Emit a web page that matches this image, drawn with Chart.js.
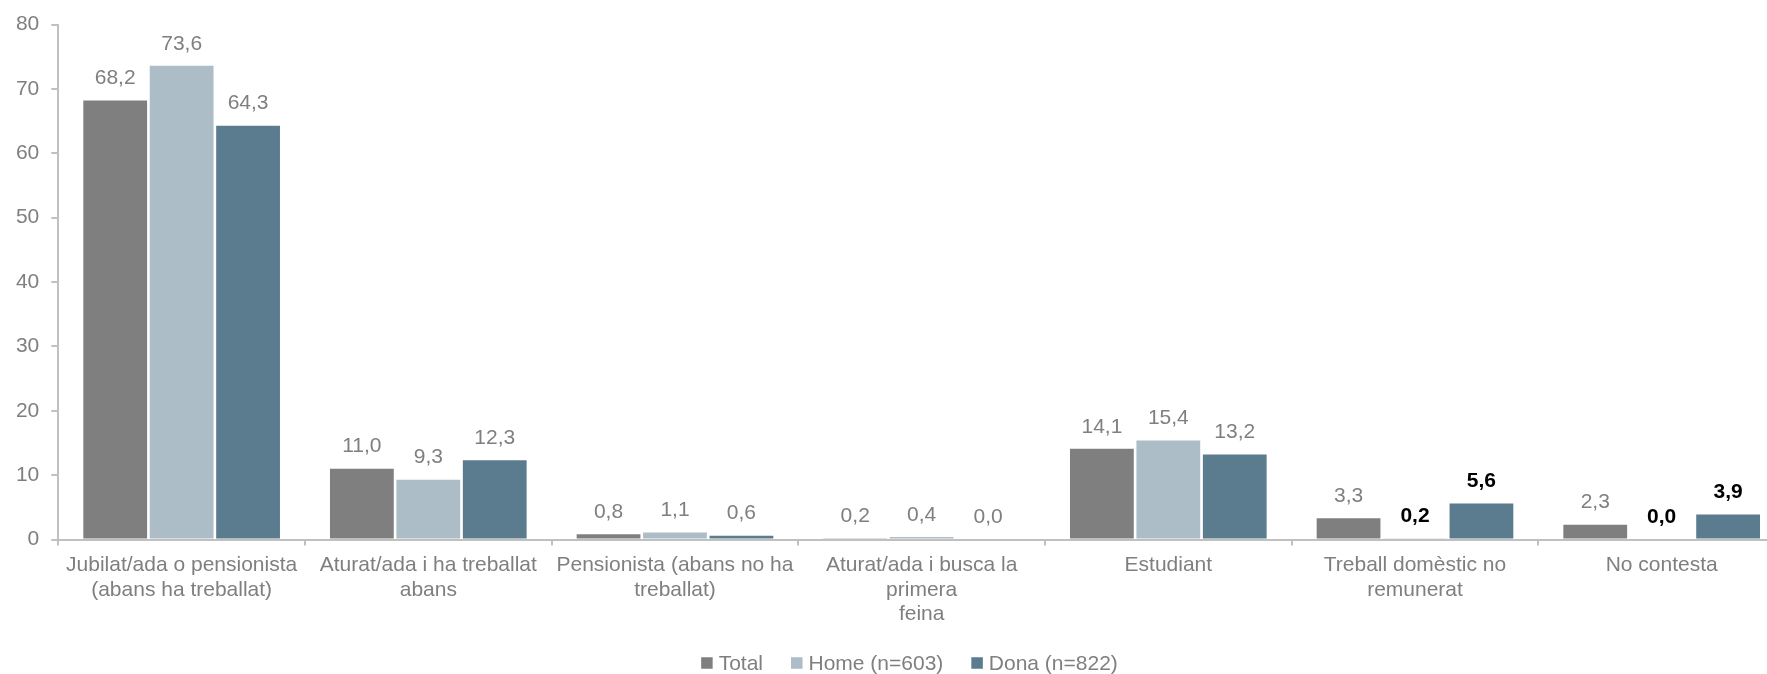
<!DOCTYPE html>
<html>
<head>
<meta charset="utf-8">
<script src="https://cdn.jsdelivr.net/npm/chart.js@4.4.1/dist/chart.umd.min.js"></script>
<style>
  html, body { margin: 0; padding: 0; background: #ffffff; overflow: hidden; }
  #wrap { position: relative; width: 1785px; height: 674px; }
</style>
</head>
<body>
<div id="wrap"><canvas id="c"></canvas></div>
<script>
// ---- data ----
const categories = [
  ['Jubilat/ada o pensionista', '(abans ha treballat)'],
  ['Aturat/ada i ha treballat', 'abans'],
  ['Pensionista (abans no ha', 'treballat)'],
  ['Aturat/ada i busca la', 'primera', 'feina'],
  'Estudiant',
  ['Treball domèstic no', 'remunerat'],
  'No contesta'
];
const seriesNames = ['Total', 'Home (n=603)', 'Dona (n=822)'];
const totalValues = [68.2, 11.0, 0.8, 0.2, 14.1, 3.3, 2.3];
const homeValues  = [73.6, 9.3, 1.1, 0.4, 15.4, 0.2, 0.0];
const donaValues  = [64.3, 12.3, 0.6, 0.0, 13.2, 5.6, 3.9];
const yTicks = [0, 10, 20, 30, 40, 50, 60, 70, 80];

// which value labels are emphasised (bold black) in the original
const emphTotal = [false, false, false, false, false, false, false];
const emphHome  = [false, false, false, false, false, true, true];
const emphDona  = [false, false, false, false, false, true, true];

// ---- styles ----
const FONT = '"Liberation Sans", Arial, Helvetica, sans-serif';
const GRAY_TEXT = '#7f7f7f';
const AXIS = '#c0c0c0';
const colors = ['#7f7f7f', '#adbdc8', '#5b7b8f'];

const valueLabels = {
  id: 'valueLabels',
  afterDatasetsDraw(chart) {
    const ctx = chart.ctx;
    const emph = [emphTotal, emphHome, emphDona];
    ctx.save();
    ctx.textAlign = 'center';
    ctx.textBaseline = 'middle';
    chart.data.datasets.forEach((ds, di) => {
      const meta = chart.getDatasetMeta(di);
      meta.data.forEach((bar, i) => {
        const v = ds.data[i];
        const txt = v.toFixed(1).replace('.', ',');
        if (emph[di][i]) {
          ctx.font = 'bold 21px ' + FONT;
          ctx.fillStyle = '#000000';
        } else {
          ctx.font = '21px ' + FONT;
          ctx.fillStyle = GRAY_TEXT;
        }
        ctx.fillText(txt, bar.x, bar.y - 22);
      });
    });
    ctx.restore();
  }
};

const bottomLegend = {
  id: 'bottomLegend',
  afterDraw(chart, args, opts) {
    const ctx = chart.ctx;
    ctx.save();
    ctx.font = '21px ' + FONT;
    ctx.textBaseline = 'middle';
    ctx.textAlign = 'left';
    const box = 11.5, gap = 6, spacing = 28;
    const items = chart.data.datasets.map(ds => ({
      label: ds.label, color: ds.backgroundColor,
      w: box + gap + ctx.measureText(ds.label).width
    }));
    const total = items.reduce((s, it) => s + it.w, 0) + spacing * (items.length - 1);
    let x = opts.centerX - total / 2;
    const y = opts.y;
    items.forEach(it => {
      ctx.fillStyle = it.color;
      ctx.fillRect(x, y - box / 2, box, box);
      ctx.fillStyle = GRAY_TEXT;
      ctx.fillText(it.label, x + box + gap, y + 1);
      x += it.w + spacing;
    });
    ctx.restore();
  }
};

new Chart(document.getElementById('c'), {
  type: 'bar',
  data: {
    labels: categories,
    datasets: [
      { label: seriesNames[0], data: totalValues, backgroundColor: colors[0] },
      { label: seriesNames[1], data: homeValues,  backgroundColor: colors[1] },
      { label: seriesNames[2], data: donaValues,  backgroundColor: colors[2] }
    ]
  },
  options: {
    responsive: true,
    maintainAspectRatio: false,
    animation: false,
    devicePixelRatio: 1,
    layout: { padding: { top: 23, left: 0, right: 0, bottom: 0 } },
    datasets: { bar: { categoryPercentage: 0.808, barPercentage: 0.96 } },
    plugins: {
      legend: { display: false },
      tooltip: { enabled: false },
      bottomLegend: { centerX: 909.5, y: 663 }
    },
    scales: {
      x: {
        grid: { display: true, offset: true, drawOnChartArea: false, tickLength: 6, color: AXIS, lineWidth: 2 },
        border: { display: true, color: AXIS, width: 2 },
        ticks: {
          color: GRAY_TEXT, padding: 8, maxRotation: 0, autoSkip: false,
          font: { family: FONT, size: 21, lineHeight: 1.15 }
        },
        afterFit(scale) { scale.height = 134.5; }
      },
      y: {
        min: 0, max: 80,
        afterBuildTicks(scale) { scale.ticks = yTicks.map(v => ({ value: v })); },
        grid: { display: true, drawOnChartArea: false, tickLength: 7, color: AXIS, lineWidth: 2 },
        border: { display: true, color: AXIS, width: 2 },
        ticks: {
          color: GRAY_TEXT, padding: 12,
          font: { family: FONT, size: 21 }
        },
        afterFit(scale) { scale.width = 58.3; }
      }
    }
  },
  plugins: [valueLabels, bottomLegend]
});
</script>
</body>
</html>
